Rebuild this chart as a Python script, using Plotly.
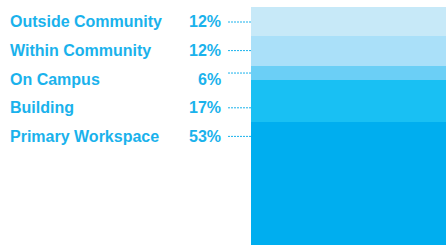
import plotly.graph_objects as go

categories = ["Primary Workspace", "Building", "On Campus", "Within Community", "Outside Community"]
values = [53, 17, 6, 12, 12]
colors = ["#00AEEF", "#19C0F3", "#6BCFF6", "#AAE0F9", "#C7E9F8"]
text_color = "#1AB2EC"

W, H = 446, 245
bar_left_px = 251
plot_top_px = 7
y_range = [2.7, 100]

def val_to_px(v):
    return plot_top_px + (y_range[1] - v) / (y_range[1] - y_range[0]) * (H - plot_top_px)

fig = go.Figure()
base = 0
for cat, v, c in zip(categories, values, colors):
    fig.add_trace(go.Bar(x=[0], y=[v], base=[base], marker=dict(color=c, line=dict(width=0)),
                         width=1, name=cat, showlegend=False, hoverinfo="skip"))
    base += v

label_y0 = 22
label_step = 28.6
font_main = dict(family="Liberation Sans, Arial, sans-serif", size=16, color=text_color, weight="bold")
cum = 0
bounds = []
for v in values:
    bounds.append((cum, cum + v))
    cum += v

order = list(range(len(categories)))[::-1]
for i, idx in enumerate(order):
    ypx = label_y0 + i * label_step
    yp = 1 - ypx / H
    fig.add_annotation(x=8 / W, y=yp, xref="paper", yref="paper", text=categories[idx],
                       showarrow=False, xanchor="left", yanchor="middle", font=font_main)
    fig.add_annotation(x=223.5 / W, y=yp, xref="paper", yref="paper", text=f"{values[idx]}%",
                       showarrow=False, xanchor="right", yanchor="middle", font=font_main)
    lo, hi = bounds[idx]
    top_px = val_to_px(hi)
    bot_px = min(val_to_px(lo), H)
    if top_px + 4 <= ypx <= bot_px - 4:
        lpx = ypx
    else:
        lpx = (top_px + bot_px) / 2
    fig.add_shape(type="line", xref="paper", yref="paper", x0=228 / W, x1=bar_left_px / W,
                  y0=1 - lpx / H, y1=1 - lpx / H,
                  line=dict(color=text_color, width=1, dash="2px,1px"))

fig.update_layout(
    width=W, height=H, margin=dict(l=0, r=0, t=0, b=0),
    paper_bgcolor="white", plot_bgcolor="white",
    barmode="overlay", bargap=0,
    xaxis=dict(domain=[bar_left_px / W, 1], range=[-0.5, 0.5], visible=False, fixedrange=True),
    yaxis=dict(domain=[0, 1 - plot_top_px / H], range=y_range, visible=False, fixedrange=True),
)

fig.write_html("out.html", config={"displayModeBar": False},
               post_script="document.body.style.margin='0';document.body.style.overflow='hidden';")
